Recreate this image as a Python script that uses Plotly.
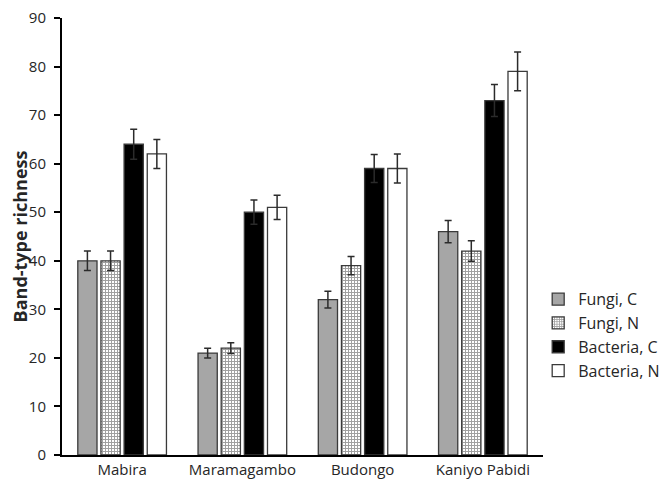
import plotly.graph_objects as go

sites = ["Mabira", "Maramagambo", "Budongo", "Kaniyo Pabidi"]

fungi_c = [40, 21, 32, 46]
fungi_c_err = [2.0, 1.0, 1.7, 2.3]
fungi_n = [40, 22, 39, 42]
fungi_n_err = [2.0, 1.1, 1.9, 2.1]
bacteria_c = [64, 50, 59, 73]
bacteria_c_err = [3.1, 2.5, 2.9, 3.3]
bacteria_n = [62, 51, 59, 79]
bacteria_n_err = [3.0, 2.5, 3.0, 4.0]

font = "Open Sans, Noto Sans, sans-serif"
edge = dict(color="#3a3a3a", width=1.3)
err_style = dict(type="data", thickness=1.5, width=3.5, color="#2b2b2b")

fig = go.Figure()

fig.add_trace(go.Bar(
    name="Fungi, C", x=sites, y=fungi_c,
    error_y=dict(array=fungi_c_err, **err_style),
    marker=dict(color="#a6a6a6", line=edge),
))
fig.add_trace(go.Bar(
    name="Fungi, N", x=sites, y=fungi_n,
    error_y=dict(array=fungi_n_err, **err_style),
    marker=dict(color="white", line=edge,
                pattern=dict(shape="+", size=3, solidity=0.55,
                             fgcolor="#404040", bgcolor="white")),
))
fig.add_trace(go.Bar(
    name="Bacteria, C", x=sites, y=bacteria_c,
    error_y=dict(array=bacteria_c_err, **err_style),
    marker=dict(color="black", line=edge),
))
fig.add_trace(go.Bar(
    name="Bacteria, N", x=sites, y=bacteria_n,
    error_y=dict(array=bacteria_n_err, **err_style),
    marker=dict(color="white", line=edge),
))

# page body has an 8px margin, so the figure is a bit smaller than the window
fig.update_layout(
    width=664, height=485,
    margin=dict(l=54, r=129, t=10, b=38, autoexpand=False),
    paper_bgcolor="white", plot_bgcolor="white",
    barmode="group", bargap=0.23, bargroupgap=0.17,
    font=dict(family=font, size=15, color="#262626"),
    legend=dict(x=0.99, y=0.274, yanchor="middle", xanchor="left",
                font=dict(size=16), tracegroupgap=0, itemwidth=30,
                bgcolor="rgba(0,0,0,0)"),
    showlegend=True,
)

fig.update_xaxes(
    showline=True, linecolor="black", linewidth=2,
    ticks="", showgrid=False, automargin=False,
    tickfont=dict(size=15),
)
fig.update_yaxes(
    range=[0, 90], dtick=10,
    showline=True, linecolor="black", linewidth=2,
    ticks="outside", ticklen=6, tickwidth=2, tickcolor="black",
    ticklabelstandoff=5, ticklabeloverflow="allow",
    showgrid=False, zeroline=False, automargin=False,
    tickfont=dict(size=15),
    title=dict(text="<b>Band-type richness</b>", font=dict(size=18), standoff=6),
)

fig.write_html("out.html")
